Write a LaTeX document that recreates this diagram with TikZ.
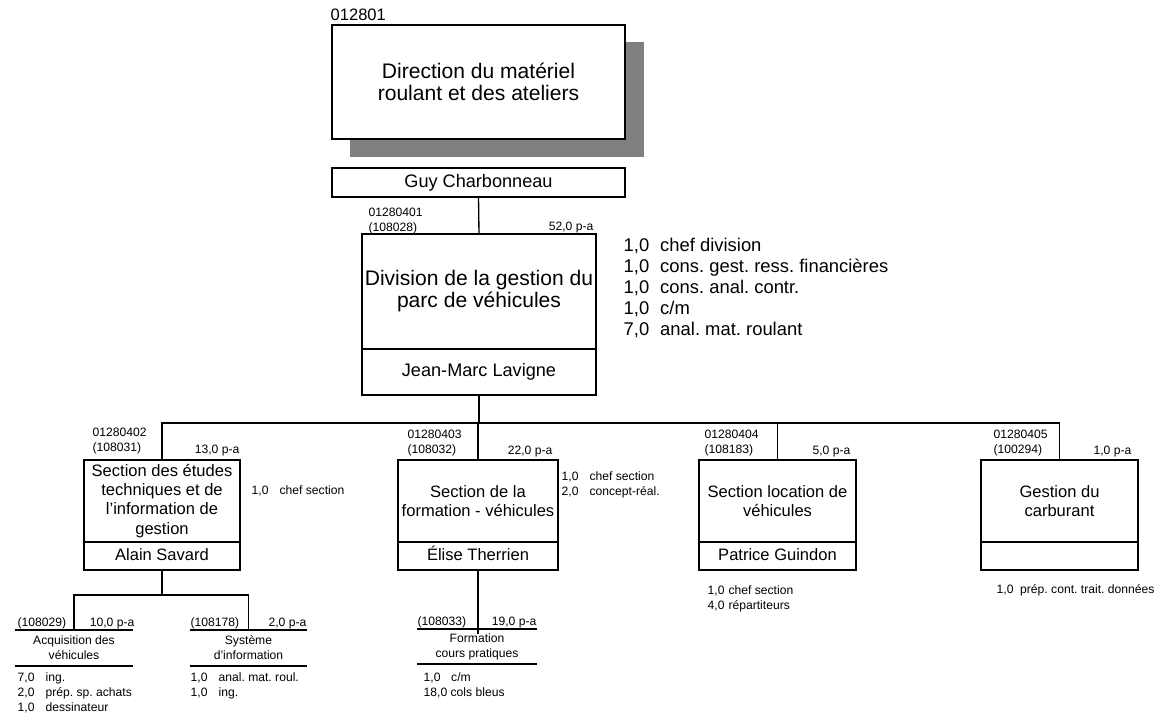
\documentclass[tikz,border=0pt]{standalone}
\usepackage{fontspec}
\setmainfont{Liberation Sans}
\usetikzlibrary{calc}
\frenchspacing

\newcommand{\fbig}{\fontsize{15.8}{16.5}\selectfont}
\newcommand{\fhead}{\fontsize{13.6}{16}\selectfont}
\newcommand{\fmid}{\fontsize{12.4}{14.4}\selectfont}
\newcommand{\flist}{\fontsize{13.8}{15.9}\selectfont}
\newcommand{\fsmall}{\fontsize{9.1}{11.25}\selectfont}
\newcommand{\codes}[1]{\begin{tabular}[t]{@{}l@{}}#1\end{tabular}}
\newcommand{\postes}[2][8pt]{\begin{tabular}[t]{@{}l@{\hspace{#1}}l@{}}#2\end{tabular}}

\tikzset{every picture/.style={line width=1pt}}
\tikzset{
  orgbox/.style={draw, fill=white, anchor=north west, inner sep=1pt, outer sep=0pt, align=center},
  titlebox/.style={orgbox, minimum height=61.5pt, font=\fmid},
  namebox/.style={orgbox, minimum height=21pt, text height=9pt, text depth=2.6pt, font=\fmid},
  codetxt/.style={anchor=base west, inner sep=0pt, font=\fsmall},
  patxt/.style={anchor=base east, inner sep=0pt, font=\fsmall},
  listtxt/.style={anchor=base west, inner sep=0pt, font=\fsmall},
  unittxt/.style={anchor=north west, inner sep=0pt, outer sep=0pt, minimum height=27pt, align=center, font=\fsmall},
}

\begin{document}
\begin{tikzpicture}[x=0.75pt,y=0.75pt,yscale=-1,xscale=1]
\useasboundingbox (0,0) rectangle (1159,717);

%Shape: Rectangle (shadow)
\fill [color={rgb, 255:red, 128; green, 128; blue, 128 }] (350,42) rectangle (644,157);
%Shape: Rectangle
\node [orgbox, minimum width=219.75pt, minimum height=85.5pt, font=\fbig] (dir) at (332,25) {Direction du matériel\\roulant et des ateliers};
%Shape: Rectangle
\node [orgbox, minimum width=219.75pt, minimum height=21.75pt, font=\fhead] (guy) at (332,168) {Guy Charbonneau};
%Shape: Rectangle
\node [orgbox, minimum width=175.5pt, minimum height=86.25pt, font=\fbig] (div) at (362,234) {Division de la gestion du\\parc de véhicules};
\node [orgbox, minimum width=175.5pt, minimum height=34.5pt, font=\fhead] (divname) at (div.south west) {Jean-Marc Lavigne};

%Shape: Rectangle
\node [titlebox, minimum width=117pt] (sec1) at (84,460) {Section des études\\techniques et de\\l’information de\\gestion};
\node [namebox, minimum width=117pt] (sec1name) at (sec1.south west) {Alain Savard};
%Shape: Rectangle
\node [titlebox, minimum width=120pt] (sec2) at (398,460) {Section de la\\formation - véhicules};
\node [namebox, minimum width=120pt] (sec2name) at (sec2.south west) {Élise Therrien};
%Shape: Rectangle
\node [titlebox, minimum width=117.75pt] (sec3) at (699,460) {Section location de\\véhicules};
\node [namebox, minimum width=117.75pt] (sec3name) at (sec3.south west) {Patrice Guindon};
%Shape: Rectangle
\node [titlebox, minimum width=117.75pt] (sec4) at (981,460) {Gestion du\\carburant};
\node [namebox, minimum width=117.75pt] (sec4name) at (sec4.south west) {};

% Sub units
\node [unittxt, minimum width=88.5pt] (acq) at (15,630) {Acquisition des\\véhicules};
\node [unittxt, minimum width=87.75pt] (sys) at (190,630) {Système\\d'information};
\node [unittxt, minimum width=90pt, minimum height=26.25pt] (form) at (417,629) {Formation\\cours pratiques};
\draw (acq.north west) -- (acq.north east);
\draw (acq.south west) -- (acq.south east);
\draw (sys.north west) -- (sys.north east);
\draw (sys.south west) -- (sys.south east);
\draw (form.north west) -- (form.north east);
\draw (form.south west) -- (form.south east);

%Straight Lines
\draw (guy.south) -- (div.north);
\coordinate (bus) at ($(divname.south)+(0,28)$);
\draw (divname.south) -- (bus);
\draw (sec1.north) |- (bus) -| (sec4.north);
\draw (sec2.north) -- (sec2.north |- bus);
\draw (sec3.north) -- (sec3.north |- bus);
\coordinate (br1) at ($(sec1name.south)+(0,25)$);
\draw (sec1name.south) -- (br1);
\draw (acq.north) |- (br1) -| (sys.north);
\draw (sec2name.south) -- ($(sec2name.south |- form.north)+(0,5)$);

% Text Node
\node [anchor=base west, inner sep=0pt, font=\fmid] (dircode) at (330,21) {012801};
% Text Node
\node [codetxt] (divcode) at (368,216) {\codes{01280401\\(108028)}};
\node [patxt] (divpa) at (594,230) {52,0 p-a};
\node [listtxt, font=\flist] (divlist) at (623,251) {\postes[8.25pt]{1,0 & chef division\\1,0 & cons. gest. ress. financières\\1,0 & cons. anal. contr.\\1,0 & c/m\\7,0 & anal. mat. roulant}};
% Text Node
\node [codetxt] (sec1code) at (92,436) {\codes{01280402\\(108031)}};
\node [patxt] (sec1pa) at (240,453) {13,0 p-a};
\node [listtxt] (sec1list) at (251,494) {\postes[8.3pt]{1,0 & chef section}};
% Text Node
\node [codetxt] (sec2code) at (407,438) {\codes{01280403\\(108032)}};
\node [patxt] (sec2pa) at (553,454) {22,0 p-a};
\node [listtxt] (sec2list) at (561,480) {\postes[8.3pt]{1,0 & chef section\\2,0 & concept-réal.}};
% Text Node
\node [codetxt] (sec3code) at (704,438) {\codes{01280404\\(108183)}};
\node [patxt] (sec3pa) at (851,454) {5,0 p-a};
\node [listtxt] (sec3list) at (707,594.5) {\postes[3pt]{1,0 & chef section\\4,0 & répartiteurs}};
% Text Node
\node [codetxt] (sec4code) at (993,438) {\codes{01280405\\(100294)}};
\node [patxt] (sec4pa) at (1132,454) {1,0 p-a};
\node [listtxt] (sec4list) at (996,593) {\postes[5pt]{1,0 & prép. cont. trait. données}};
% Text Node
\node [codetxt] (acqcode) at (17,626) {(108029)};
\node [patxt] (acqpa) at (135,626) {10,0 p-a};
\node [listtxt] (acqlist) at (17,681) {\postes[8.3pt]{7,0 & ing.\\2,0 & prép. sp. achats\\1,0 & dessinateur}};
% Text Node
\node [codetxt] (syscode) at (190,626) {(108178)};
\node [patxt] (syspa) at (307,626) {2,0 p-a};
\node [listtxt] (syslist) at (190,681) {\postes[8.3pt]{1,0 & anal. mat. roul.\\1,0 & ing.}};
% Text Node
\node [codetxt] (formcode) at (417,625.5) {(108033)};
\node [patxt] (formpa) at (537,625.5) {19,0 p-a};
\node [listtxt] (formlist) at (423,681) {\codes{1,0\hspace{8pt}c/m\\18,0 cols bleus}};
\end{tikzpicture}
\end{document}
